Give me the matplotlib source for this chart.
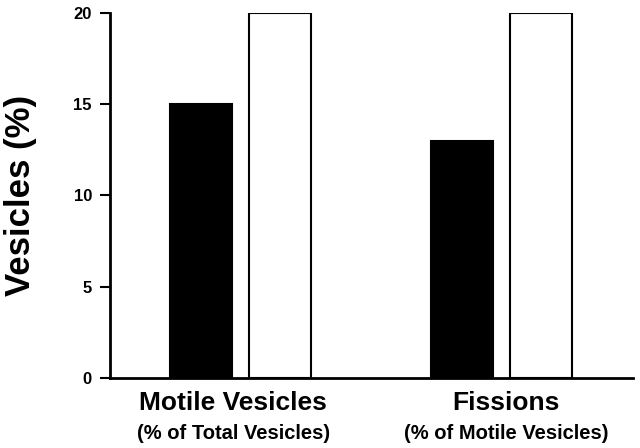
import numpy as np
import matplotlib.pyplot as plt
import matplotlib.transforms as mtransforms

plt.rcParams['font.family'] = ['Liberation Sans', 'DejaVu Sans']
plt.rcParams['font.weight'] = 'bold'

groups = ['Motile Vesicles', 'Fissions']
subtitles = ['(% of Total Vesicles)', '(% of Motile Vesicles)']
black_vals = [15, 13]
white_vals = [20, 20]
yticks = [0, 5, 10, 15, 20]

fig = plt.figure(figsize=(6.4, 4.48), dpi=100)
ax = fig.add_axes([0.1719, 0.1563, 0.8171, 0.8154])

x = np.arange(len(groups))
width = 0.2375
offset = 0.151
ax.bar(x - offset, black_vals, width, color='black', edgecolor='black', linewidth=1.5)
ax.bar(x + offset, white_vals, width, color='white', edgecolor='black', linewidth=1.5)

ax.set_xlim(-0.499, 1.505)
ax.set_ylim(0, 20)
ax.set_yticks(yticks)
ax.set_yticklabels([str(t) for t in yticks], fontsize=12, fontweight='bold')
ax.set_xticks([])
ax.tick_params(axis='y', length=7, width=1.5, pad=6)

for side in ['top', 'right']:
    ax.spines[side].set_visible(False)
for side in ['left', 'bottom']:
    ax.spines[side].set_linewidth(2)

ax.set_ylabel('Vesicles (%)', fontsize=25, fontweight='bold', labelpad=26)

trans = mtransforms.blended_transform_factory(ax.transData, ax.transAxes)
label_x = [-0.027, 1.02]
for lx, g, s in zip(label_x, groups, subtitles):
    ax.text(lx, -0.068, g, transform=trans, ha='center', va='center',
            fontsize=19, fontweight='bold')
    ax.text(lx, -0.151, s, transform=trans, ha='center', va='center',
            fontsize=14.5, fontweight='bold')

fig.savefig('out.png', dpi=100)
